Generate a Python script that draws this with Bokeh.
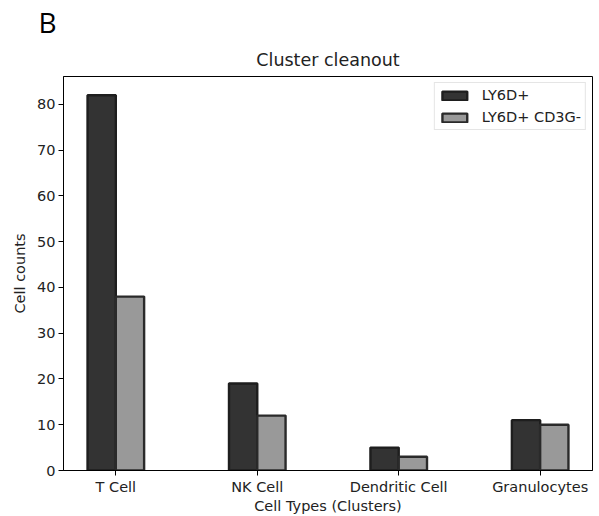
import numpy as np
from bokeh.plotting import figure
from bokeh.models import FixedTicker, Title, Range1d, ColumnDataSource
from bokeh.embed import file_html
from bokeh.resources import INLINE

categories = ["T Cell", "NK Cell", "Dendritic Cell", "Granulocytes"]
ly6d_pos = [82, 19, 5, 11]
ly6d_pos_cd3g_neg = [38, 12, 3, 10]
series_names = ["LY6D+", "LY6D+ CD3G-"]
y_ticks = [0, 10, 20, 30, 40, 50, 60, 70, 80]

FONT = "DejaVu Sans"
FS = "14.5px"
bar_w = 0.2
idx = np.arange(len(categories))

p = figure(width=599, height=516, output_backend="svg", toolbar_location=None,
           title=None, x_range=Range1d(-0.37, 3.37), y_range=Range1d(0, 86.1),
           min_border_left=63, min_border_right=7, min_border_top=75, min_border_bottom=46)
p.background_fill_color = "white"
p.border_fill_color = "white"
p.outline_line_color = "black"
p.outline_line_width = 1
p.grid.visible = False

src = ColumnDataSource(dict(x1=idx - bar_w / 2, x2=idx + bar_w / 2,
                            a=ly6d_pos, b=ly6d_pos_cd3g_neg))
p.vbar(x="x1", top="a", width=bar_w, source=src, fill_color="#333333",
       line_color="#1e1e1e", line_width=2.4, legend_label=series_names[0])
p.vbar(x="x2", top="b", width=bar_w, source=src, fill_color="#999999",
       line_color="#2a2a2a", line_width=2.4, legend_label=series_names[1])

p.xaxis.ticker = FixedTicker(ticks=list(idx))
p.xaxis.major_label_overrides = {int(i): c for i, c in zip(idx, categories)}
p.yaxis.ticker = FixedTicker(ticks=y_ticks)
p.xaxis.axis_label = "Cell Types (Clusters)"
p.yaxis.axis_label = "Cell counts"
for ax in (p.xaxis[0], p.yaxis[0]):
    ax.axis_line_color = "black"
    ax.major_tick_line_color = "black"
    ax.major_tick_out = 5
    ax.major_tick_in = 0
    ax.minor_tick_line_color = None
    ax.major_label_text_font = FONT
    ax.major_label_text_font_size = FS
    ax.major_label_text_color = "#222222"
    ax.major_label_standoff = 3
    ax.axis_label_text_font = FONT
    ax.axis_label_text_font_size = FS
    ax.axis_label_text_font_style = "normal"
    ax.axis_label_text_color = "#222222"
p.yaxis.axis_label_standoff = 6
p.xaxis.axis_label_standoff = 0

t1 = Title(text="Cluster cleanout", align="center", text_font=FONT,
           text_font_size="17.5px", text_font_style="normal", text_color="#222222", standoff=14)
t2 = Title(text="B", align="left", text_font="Open Sans", text_font_size="28px",
           text_font_style="normal", text_color="black", offset=-25, standoff=0)
p.add_layout(t1, "above")
p.add_layout(t2, "above")

lg = p.legend[0]
lg.location = "top_right"
lg.margin = 6
lg.padding = 4
lg.spacing = 6
lg.glyph_width = 31
lg.glyph_height = 11
lg.label_standoff = 12
lg.label_text_font = FONT
lg.label_text_font_size = FS
lg.label_text_color = "#222222"
lg.border_line_color = "#cccccc"
lg.border_line_width = 1
lg.background_fill_alpha = 0.8

open("out.html", "w").write(file_html(p, INLINE))
